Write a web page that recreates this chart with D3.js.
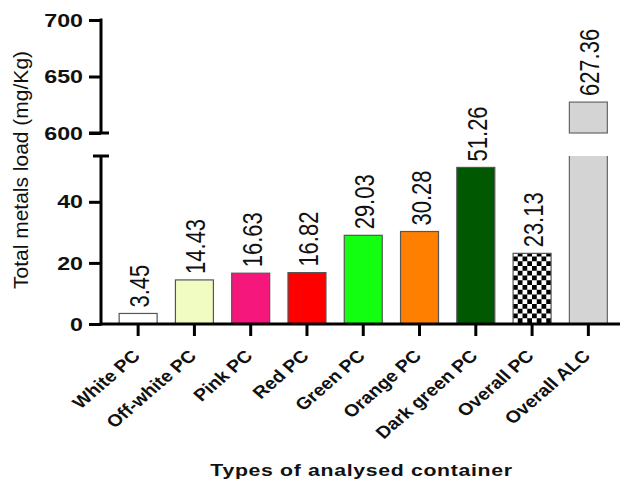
<!DOCTYPE html>
<html>
<head>
<meta charset="utf-8">
<script src="https://cdn.jsdelivr.net/npm/d3@7"></script>
<style>
html,body{margin:0;padding:0;background:#fff;}
svg{display:block;font-family:"Liberation Sans",Arial,sans-serif;}
</style>
</head>
<body>
<svg id="chart" width="621" height="482"></svg>
<script>
const categories = ["White PC","Off-white PC","Pink PC","Red PC","Green PC","Orange PC","Dark green PC","Overall PC","Overall ALC"];
const values = [3.45,14.43,16.63,16.82,29.03,30.28,51.26,23.13,627.36];
const valueLabels = ["3.45","14.43","16.63","16.82","29.03","30.28","51.26","23.13","627.36"];
const colors = ["#ffffff","#f1fcc2","#f5177c","#ff0000","#12ff12","#ff7f00","#005800","url(#checker)","#d4d4d4"];
const lowerTicks = [0,20,40];
const upperTicks = [600,650,700];
const yTitle = "Total metals load (mg/Kg)";
const xTitle = "Types of analysed container";

const svg = d3.select("#chart");
const FONT = "'Liberation Sans',Arial,sans-serif";

// checker pattern
const defs = svg.append("defs");
const pat = defs.append("pattern").attr("id","checker").attr("patternUnits","userSpaceOnUse")
  .attr("width",9.5).attr("height",9.5);
pat.append("rect").attr("width",9.5).attr("height",9.5).attr("fill","#fff");
pat.append("rect").attr("width",4.75).attr("height",4.75).attr("fill","#000");
pat.append("rect").attr("x",4.75).attr("y",4.75).attr("width",4.75).attr("height",4.75).attr("fill","#000");

const axisX = 101;
const yLow = d3.scaleLinear().domain([0,55]).range([324,156]);
const yHigh = d3.scaleLinear().domain([600,700]).range([133,20]);
const x = d3.scaleBand().domain(categories).range([110,616.5]).paddingInner(0.325).paddingOuter(0.1625);

// bars
const g = svg.append("g");
categories.forEach((c,i)=>{
  const v = values[i];
  const x0 = x(c), w = x.bandwidth();
  if (v <= 55) {
    g.append("rect").attr("x",x0).attr("y",yLow(v)).attr("width",w).attr("height",yLow(0)-yLow(v))
      .attr("fill",colors[i]).attr("stroke","#555").attr("stroke-width",1.2);
  } else {
    g.append("rect").attr("x",x0).attr("y",yHigh(v)).attr("width",w).attr("height",yHigh(600)-yHigh(v))
      .attr("fill",colors[i]).attr("stroke","#666").attr("stroke-width",1.2);
    g.append("rect").attr("x",x0).attr("y",yLow(55)).attr("width",w).attr("height",yLow(0)-yLow(55))
      .attr("fill",colors[i]);
    g.append("path").attr("d",`M${x0},${yLow(55)}V${yLow(0)}H${x0+w}V${yLow(55)}`)
      .attr("fill","none").attr("stroke","#666").attr("stroke-width",1.2);
  }
  const top = v <= 55 ? yLow(v) : yHigh(v);
  const cx = x0 + w/2 + 1;
  g.append("text").attr("transform",`translate(${cx},${top-6}) scale(1.27,1) rotate(-90)`)
    .attr("dy","0.36em").attr("text-anchor","start")
    .style("font-family",FONT).style("font-size","22px").attr("fill","#111")
    .text(valueLabels[i]);
});

// y axes
function styleAxis(sel){
  sel.select(".domain").remove();
  sel.selectAll(".tick line").attr("stroke","#000").attr("stroke-width",3);
  sel.selectAll(".tick text").attr("x",null).attr("dy","0.34em")
    .attr("transform","translate(-18,0) scale(1.29,1)")
    .style("font-family",FONT).style("font-size","18px").style("font-weight","bold").attr("fill","#111");
}
const gLow = svg.append("g").attr("transform",`translate(${axisX},0)`)
  .call(d3.axisLeft(yLow).tickValues(lowerTicks).tickSize(12).tickPadding(0));
styleAxis(gLow);
const gHigh = svg.append("g").attr("transform",`translate(${axisX},0)`)
  .call(d3.axisLeft(yHigh).tickValues(upperTicks).tickSize(12).tickPadding(0));
styleAxis(gHigh);

// y axis lines and break caps
svg.append("line").attr("x1",axisX).attr("x2",axisX).attr("y1",yHigh(700)-1.5).attr("y2",yHigh(600))
  .attr("stroke","#000").attr("stroke-width",3);
svg.append("line").attr("x1",axisX-12).attr("x2",axisX+8).attr("y1",yHigh(600)).attr("y2",yHigh(600))
  .attr("stroke","#000").attr("stroke-width",3);
svg.append("line").attr("x1",axisX).attr("x2",axisX).attr("y1",yLow(55)).attr("y2",yLow(0)+1.5)
  .attr("stroke","#000").attr("stroke-width",3);
svg.append("line").attr("x1",axisX-8).attr("x2",axisX+8).attr("y1",yLow(55)).attr("y2",yLow(55))
  .attr("stroke","#000").attr("stroke-width",3);

// x axis
const gx = svg.append("g").attr("transform",`translate(0,${yLow(0)})`)
  .call(d3.axisBottom(x).tickSize(12).tickPadding(0));
gx.select(".domain").remove();
gx.selectAll(".tick line").attr("stroke","#000").attr("stroke-width",3);
gx.selectAll(".tick text").attr("y",null).attr("dy",null)
  .attr("text-anchor","end")
  .attr("transform","translate(3,33) scale(1.15,1) rotate(-45)")
  .style("font-family",FONT).style("font-size","17px").style("font-weight","bold").attr("fill","#111");
svg.append("line").attr("x1",axisX-1.5).attr("x2",620).attr("y1",yLow(0)).attr("y2",yLow(0))
  .attr("stroke","#000").attr("stroke-width",3);

// titles
svg.append("text").attr("transform","translate(28,170) rotate(-90)").attr("text-anchor","middle")
  .style("font-family",FONT).style("font-size","21px").attr("fill","#111").text(yTitle);
svg.append("text").attr("transform","translate(361.5,476) scale(1.33,1)").attr("text-anchor","middle")
  .style("font-family",FONT).style("font-size","16px").style("font-weight","bold").style("letter-spacing","0.5px")
  .attr("fill","#111").text(xTitle);
</script>
</body>
</html>
